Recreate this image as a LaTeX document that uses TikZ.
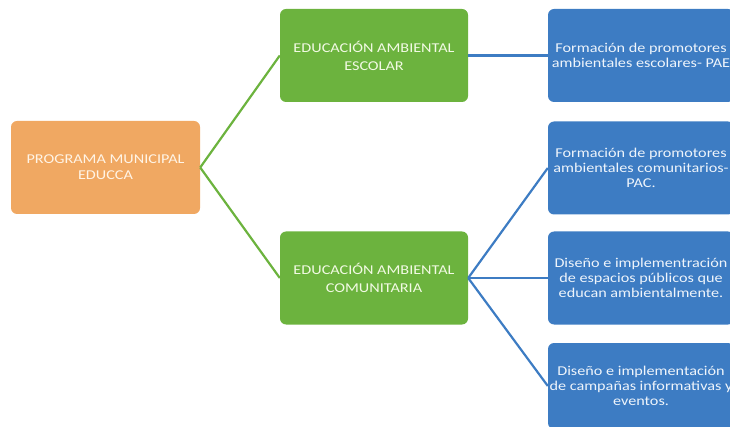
\documentclass[tikz,border=0pt]{standalone}
\usepackage{fontspec}
\setmainfont{Carlito}[FakeStretch=1.2]
\definecolor{naranja}{HTML}{F0A862}
\definecolor{verde}{HTML}{6CB33E}
\definecolor{azul}{HTML}{3D7CC3}
\definecolor{txtnar}{HTML}{FFF4E6}
\definecolor{txtver}{HTML}{F2FAE4}
\definecolor{txtazu}{HTML}{EEF4FB}

\tikzset{
	caja/.style={rounded corners=6pt, inner sep=0pt, align=center, minimum height=93pt},
	programa/.style={caja, fill=naranja, text=txtnar, minimum width=189pt, font=\fontsize{13.5}{16}\selectfont},
	eje/.style={caja, fill=verde, text=txtver, minimum width=188pt, font=\fontsize{13.5}{18}\selectfont},
	accion/.style={caja, fill=azul, text=txtazu, minimum width=186pt, font=\fontsize{13.5}{15}\selectfont},
	rama/.style={line width=2.2pt}
}

\begin{document}
\begin{tikzpicture}[x=1pt,y=-1pt]
		\useasboundingbox (0,0) rectangle (730,427);
		\clip (0,0) rectangle (730,427);

		\node[programa] (prog) at (105.5,167.5) {PROGRAMA MUNICIPAL\\EDUCCA};

		\node[eje] (escolar) at (374,55.5) {EDUCACIÓN AMBIENTAL\\ESCOLAR};
		\node[eje] (comunit) at (374,278) {EDUCACIÓN AMBIENTAL\\COMUNITARIA};

		\node[accion] (pae) at (641,55.5) {Formación de promotores\\ambientales escolares- PAE};
		\node[accion] (pac) at (641,168) {Formación de promotores\\ambientales comunitarios-\\PAC.};
		\node[accion] (espacios) at (641,278) {Diseño e implementración\\de espacios públicos que\\educan ambientalmente.};
		\node[accion, minimum height=86pt] (campanas) at (641,386) {Diseño e implementación\\de campañas informativas y\\eventos.};

		\draw [rama, verde] (prog.east) -- (escolar.west);
		\draw [rama, verde] (prog.east) -- (comunit.west);

		\draw [rama, azul] (escolar.east) -- (pae.west);
		\draw [rama, azul] (comunit.east) -- (pac.west);
		\draw [rama, azul] (comunit.east) -- (espacios.west);
		\draw [rama, azul] (comunit.east) -- (campanas.west);
\end{tikzpicture}
\end{document}
